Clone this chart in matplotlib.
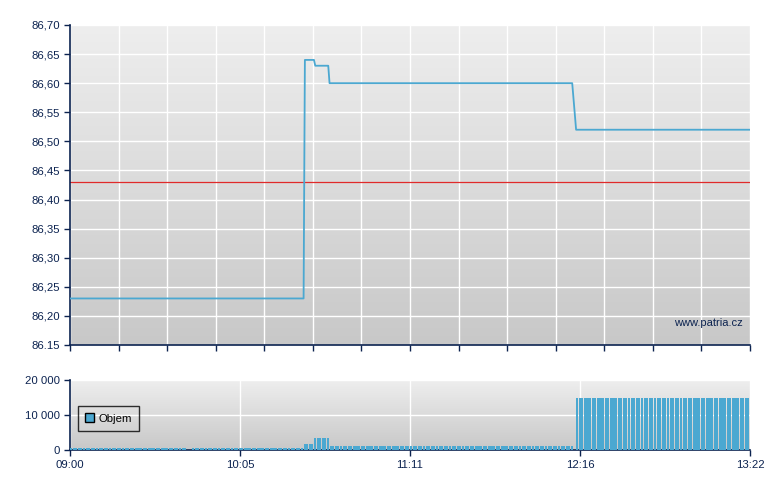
import matplotlib
matplotlib.use("Agg")
import matplotlib.pyplot as plt
import numpy as np

# minutes after 09:00
price_time = [0, 90, 90.5, 94, 94.5, 99.5, 100, 193.5, 195, 262]
price_value = [86.23, 86.23, 86.64, 86.64, 86.63, 86.63, 86.60, 86.60, 86.52, 86.52]
reference_price = 86.43

# volume blocks: start minute, end minute, volume per minute
vol_start = [0, 47, 90, 94, 100, 195]
vol_end = [45, 90, 94, 100, 194, 262]
vol_level = [600, 600, 1700, 3400, 1200, 15000]

price_ticks = [86.15, 86.20, 86.25, 86.30, 86.35, 86.40, 86.45, 86.50, 86.55, 86.60, 86.65, 86.70]
price_labels = ["86.15", "86,20", "86,25", "86,30", "86,35", "86,40", "86,45", "86,50",
                "86,55", "86,60", "86,65", "86,70"]
vol_ticks = [0, 10000, 20000]
vol_labels = ["0", "10 000", "20 000"]
time_labels = ["09:00", "10:05", "11:11", "12:16", "13:22"]

NAVY = "#0c2350"
BLUE = "#4ba8d1"
T_END = 262

plt.rcParams["font.family"] = ["Liberation Sans", "DejaVu Sans"]


def gradient_bg(ax):
    grad = np.linspace(0, 1, 256).reshape(-1, 1)
    cmap = matplotlib.colors.LinearSegmentedColormap.from_list("bg", ["#eeeeee", "#c8c8c8"])
    ax.imshow(grad, extent=[0, 1, 0, 1], transform=ax.transAxes, aspect="auto",
              cmap=cmap, zorder=-10, origin="upper")


def style_axes(ax):
    for s in ["top", "right"]:
        ax.spines[s].set_visible(False)
    for s in ["left", "bottom"]:
        ax.spines[s].set_color(NAVY)
        ax.spines[s].set_linewidth(1.2)
    ax.tick_params(colors=NAVY, labelcolor=NAVY, labelsize=8.2, length=4, width=1,
                   direction="out", pad=3)
    ax.grid(True, color="white", linewidth=1.0, zorder=0)
    ax.set_axisbelow(True)


fig = plt.figure(figsize=(7.8, 4.9), dpi=100)

ax = fig.add_axes([70 / 780, 1 - 345 / 490, 680 / 780, 320 / 490])
gradient_bg(ax)
style_axes(ax)
ax.plot(price_time, price_value, color=BLUE, linewidth=1.3, zorder=3)
ax.axhline(reference_price, color="#e02a2a", linewidth=0.9, zorder=2)
ax.set_xlim(0, T_END)
ax.set_ylim(86.15, 86.70)
ax.set_yticks(price_ticks)
ax.set_yticklabels(price_labels)
ax.set_xticks(np.linspace(0, T_END, 15))
ax.set_xticklabels([])
ax.text(0.99, 0.069, "www.patria.cz", transform=ax.transAxes, ha="right", va="center",
        fontsize=8, color=NAVY)

axv = fig.add_axes([70 / 780, 1 - 450 / 490, 680 / 780, 70 / 490])
gradient_bg(axv)
style_axes(axv)
for s, e, v in zip(vol_start, vol_end, vol_level):
    minutes = np.arange(s, e)
    axv.bar(minutes, [v] * len(minutes), width=0.8, align="edge", color=BLUE,
            linewidth=0, zorder=3)
axv.set_xlim(0, T_END)
axv.set_ylim(0, 20000)
axv.set_yticks(vol_ticks)
axv.set_yticklabels(vol_labels)
axv.set_xticks(np.linspace(0, T_END, 5))
axv.set_xticklabels(time_labels)

handle = matplotlib.patches.Patch(facecolor=BLUE, edgecolor="black", linewidth=1)
leg = axv.legend([handle], ["Objem"], loc="center left", bbox_to_anchor=(0.003, 0.45),
                 fontsize=8.2, frameon=True, fancybox=False, handlelength=0.75,
                 handleheight=0.75, borderpad=0.65, handletextpad=0.4)
leg.get_frame().set_edgecolor("black")
leg.get_frame().set_facecolor("none")
leg.get_frame().set_linewidth(1)

fig.savefig("out.png", dpi=100)
